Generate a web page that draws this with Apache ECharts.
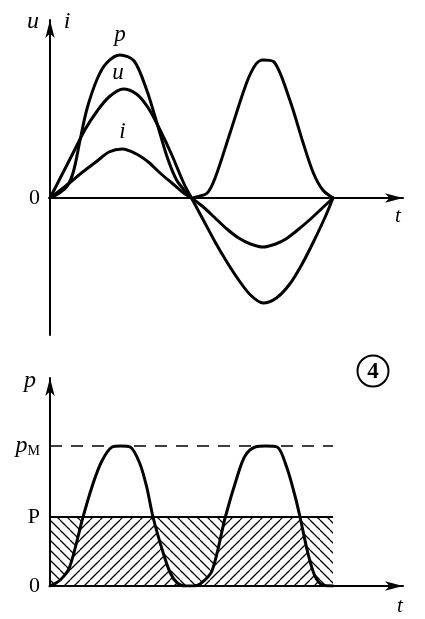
<!DOCTYPE html>
<html><head><meta charset="utf-8">
<script src="https://cdn.jsdelivr.net/npm/echarts@6/dist/echarts.min.js"></script>
<style>html,body{margin:0;padding:0;background:#fff}#c{width:425px;height:619px}</style>
</head><body><div id="c"></div>
<script>
// t in degrees over one period, values in arbitrary units
const uData = [[0,0],[15,23],[30,46],[45,69],[60,87],[75,101],[93,109],[110,104],[125,90],[140,68],[155,43],[170,15],[180,0],
  [195,-22],[210,-44],[225,-64],[240,-82],[255,-97],[271,-105],[288,-100],[305,-86],[320,-67],[335,-44],[350,-19],[360,0]];
const iData = [[0,0],[20,12],[40,25],[60,37],[75,46],[92,49],[110,44],[125,36],[140,25],[155,15],[170,5],[180,0],
  [195,-9],[210,-20],[225,-31],[240,-40],[255,-46],[271,-49],[287,-46],[300,-41],[315,-32],[330,-22],[345,-11],[360,0]];
const pTopData = [[0,0],[12,5],[22,12],[30,27],[38,57],[47,89],[60,119],[72,135],[89,143],[107,137],[123,108],[136,75],[149,41],[161,18],[174,5],[180,0],
  [186,1],[200,5],[210,20],[229,65],[250,115],[262,134],[271,138],[285,136],[305,98],[322,55],[335,25],[347,8],[360,0]];
const pBottomData = [[0,0],[13,6],[25,19],[42,69],[55,103],[66,125],[79,139],[90,140],[102,139],[114,123],[123,99],[131,69],[144,33],[153,13],[162,3],[172,0],
  [182,0],[191,2],[206,15],[223,69],[238,109],[248,130],[261,139],[275,140],[289,139],[301,119],[312,89],[318,69],[328,33],[337,10],[347,1],[360,0]];
const P_LEVEL = 69;      // average power P
const PM_LEVEL = 140;    // peak power pM
const T_END = 360;
const topTickValues = [0];
const topTickLabels = ['0'];
const bottomTickValues = [0, P_LEVEL, PM_LEVEL];
const bottomTickLabels = ['0', 'P', '{p|p}{m|M}'];

function hatch(dir, s){
  const c = document.createElement('canvas'); c.width = s; c.height = s;
  const g = c.getContext('2d');
  g.fillStyle = '#fff'; g.fillRect(0,0,s,s);
  g.strokeStyle = '#000'; g.lineWidth = 1.25;
  for (let k=-1;k<=1;k++){
    g.beginPath();
    if (dir === '/') { g.moveTo(k*s, s); g.lineTo(k*s+s, 0); }
    else { g.moveTo(k*s, 0); g.lineTo(k*s+s, s); }
    g.stroke();
  }
  return {image: c, repeat: 'repeat'};
}
function peak(arr){ let b = arr[0]; arr.forEach(d=>{ if (d[1] > b[1]) b = d; }); return b; }

const serif = "'Liberation Serif', 'Times New Roman', serif";
const black = '#000';
const axisBase = {
  type: 'value', axisTick:{show:false}, splitLine:{show:false}, z: 10,
  axisLine:{lineStyle:{color:black,width:2}, symbol:['none','arrow'], symbolSize:[7,18]}
};
function curve(name, data, xi, label, lblOpt){
  const s = {
    name, type:'line', data, xAxisIndex:xi, yAxisIndex:xi, smooth:0.3, showSymbol:false, z:5,
    lineStyle:{color:black, width:3, cap:'round', join:'round'}, silent:true, animation:false
  };
  if (label){
    s.markPoint = {symbol:'circle', symbolSize:1, itemStyle:{color:'rgba(0,0,0,0)'}, silent:true, animation:false,
      data:[{coord: peak(data), label:Object.assign({show:true, formatter:label, position:'top', color:black,
        fontFamily:serif, fontStyle:'italic', fontSize:23}, lblOpt)}]};
  }
  return s;
}
function flat(level){ return [[0, level], [T_END, level]]; }

const chart = echarts.init(document.getElementById('c'), null, {renderer:'canvas'});
chart.setOption({
  animation:false,
  backgroundColor:'#fff',
  grid:[{left:50, top:20, width:353, height:315}, {left:50, top:378, width:353, height:208}],
  xAxis:[
    Object.assign({}, axisBase, {gridIndex:0, min:0, max:449, axisLabel:{show:false}}),
    Object.assign({}, axisBase, {gridIndex:1, min:0, max:449, axisLabel:{show:false}})
  ],
  yAxis:[
    Object.assign({}, axisBase, {gridIndex:0, min:-137, max:178,
      axisLabel:{show:true, customValues: topTickValues, formatter:(v)=>topTickLabels[topTickValues.indexOf(v)],
        margin:10, color:black, fontFamily:serif, fontSize:22}}),
    Object.assign({}, axisBase, {gridIndex:1, min:0, max:208,
      axisLabel:{show:true, customValues: bottomTickValues, formatter:(v)=>bottomTickLabels[bottomTickValues.indexOf(v)],
        margin:10, color:black, fontFamily:serif, fontSize:22,
        rich:{p:{fontFamily:serif, fontStyle:'italic', fontSize:24, color:black},
              m:{fontFamily:serif, fontSize:14, color:black, verticalAlign:'bottom', padding:[8,0,0,0]}}}})
  ],
  series:[
    curve('u', uData, 0, 'u', {distance:4, offset:[-5,0]}),
    curve('i', iData, 0, 'i', {distance:5}),
    curve('p', pTopData, 0, 'p', {distance:8}),
    {name:'hatchBack', type:'line', xAxisIndex:1, yAxisIndex:1, data:flat(P_LEVEL), showSymbol:false, z:1,
      lineStyle:{width:0}, areaStyle:{color:hatch('\\', 10), opacity:1}, silent:true},
    {name:'hatchFront', type:'line', xAxisIndex:1, yAxisIndex:1, data:pBottomData, smooth:0.3, showSymbol:false, z:2,
      lineStyle:{width:0}, areaStyle:{color:hatch('/', 10), opacity:1}, silent:true},
    {name:'cover', type:'line', xAxisIndex:1, yAxisIndex:1, data:flat(205), showSymbol:false, z:3,
      lineStyle:{width:0}, areaStyle:{color:'#fff', opacity:1, origin:P_LEVEL}, silent:true},
    {name:'P', type:'line', xAxisIndex:1, yAxisIndex:1, data:flat(P_LEVEL), showSymbol:false, z:4,
      lineStyle:{color:black, width:2}, silent:true},
    {name:'pM', type:'line', xAxisIndex:1, yAxisIndex:1, data:flat(PM_LEVEL), showSymbol:false, z:4,
      lineStyle:{color:black, width:1.5, type:[12,9]}, silent:true},
    curve('pBottom', pBottomData, 1, null)
  ],
  graphic:[
    {type:'text', x:33, y:22, style:{text:'u', font:'italic 24px '+serif, fill:black, align:'center', verticalAlign:'middle'}},
    {type:'text', x:67, y:22, style:{text:'i', font:'italic 24px '+serif, fill:black, align:'center', verticalAlign:'middle'}},
    {type:'text', x:398, y:216, style:{text:'t', font:'italic 21px '+serif, fill:black, align:'center', verticalAlign:'middle'}},
    {type:'text', x:30, y:381, style:{text:'p', font:'italic 24px '+serif, fill:black, align:'center', verticalAlign:'middle'}},
    {type:'text', x:400, y:606, style:{text:'t', font:'italic 21px '+serif, fill:black, align:'center', verticalAlign:'middle'}},
    {type:'circle', shape:{cx:373, cy:371, r:15.5}, style:{fill:'none', stroke:black, lineWidth:2}},
    {type:'text', x:373, y:372, style:{text:'4', font:'bold 23px '+serif, fill:black, align:'center', verticalAlign:'middle'}}
  ]
});
</script></body></html>
